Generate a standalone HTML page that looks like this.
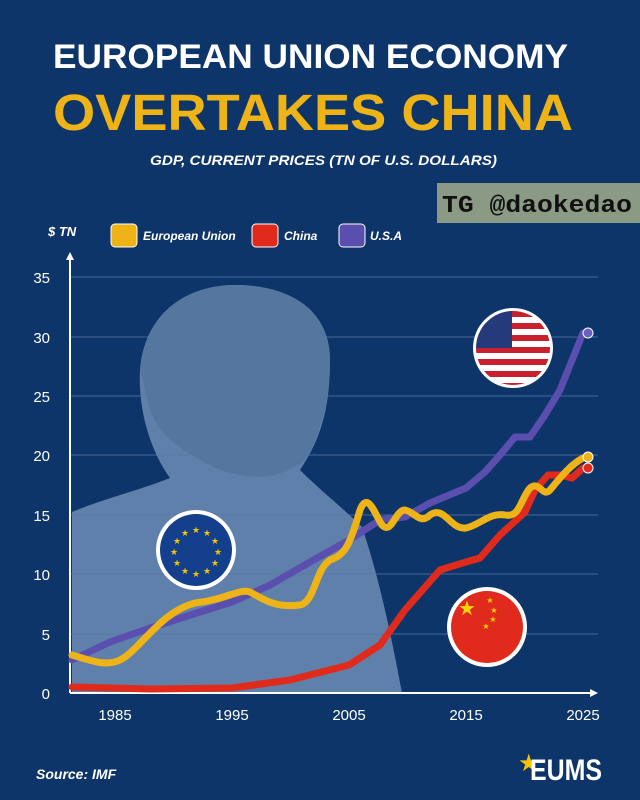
<!DOCTYPE html>
<html><head><meta charset="utf-8"><style>
html,body{margin:0;padding:0;background:#0e3569;}
svg{display:block}
</style></head><body>
<svg width="640" height="800" viewBox="0 0 640 800" xmlns="http://www.w3.org/2000/svg" font-family="Liberation Sans, sans-serif">
<rect width="640" height="800" fill="#0e3569"/>
<text x="53" y="68" fill="#fff" font-size="34" font-weight="bold" textLength="515" lengthAdjust="spacingAndGlyphs">EUROPEAN UNION ECONOMY</text>
<text x="53" y="130" fill="#eeb417" font-size="51" font-weight="bold" textLength="520" lengthAdjust="spacingAndGlyphs">OVERTAKES CHINA</text>
<text x="150" y="165" fill="#fff" font-size="14" font-weight="bold" font-style="italic" textLength="347" lengthAdjust="spacingAndGlyphs">GDP, CURRENT PRICES (TN OF U.S. DOLLARS)</text>
<rect x="437" y="183" width="203" height="40" fill="#8a9a84"/>
<text x="442" y="212" fill="#111" font-size="24" font-weight="bold" font-family="Liberation Mono, monospace" textLength="190" lengthAdjust="spacingAndGlyphs">TG @daokedao</text>
<text x="48" y="236" fill="#fff" font-size="13" font-weight="bold" font-style="italic">$ TN</text>
<rect x="111" y="224" width="26" height="23" rx="4" fill="#eeb417" stroke="#fff" stroke-width="1"/>
<text x="143" y="240" fill="#fff" font-size="12" font-weight="bold" font-style="italic">European Union</text>
<rect x="252" y="224" width="26" height="23" rx="4" fill="#e02b1c" stroke="#fff" stroke-width="1"/>
<text x="284" y="240" fill="#fff" font-size="12" font-weight="bold" font-style="italic">China</text>
<rect x="339" y="224" width="26" height="23" rx="4" fill="#5a4fae" stroke="#fff" stroke-width="1"/>
<text x="370" y="240" fill="#fff" font-size="12" font-weight="bold" font-style="italic">U.S.A</text>
<!-- photo silhouette -->
<path d="M72 512 C100 500 140 490 170 478 C150 450 138 410 140 370 C145 310 190 285 235 285 C290 285 330 310 330 360 C330 410 320 440 300 470 C320 490 345 510 362 527 C380 580 392 640 402 693 L72 693 Z" fill="#5f80aa"/>
<path d="M140 370 C145 310 190 285 235 285 C290 285 330 310 330 360 C330 400 322 430 305 460 C280 480 250 480 220 470 C190 455 160 440 150 410 Z" fill="#55769f"/>
<!-- grid -->
<g stroke="#5a78a6" stroke-width="0.7">
<line x1="70" y1="277" x2="598" y2="277"/><line x1="70" y1="337" x2="598" y2="337"/><line x1="70" y1="396" x2="598" y2="396"/><line x1="70" y1="455" x2="598" y2="455"/><line x1="70" y1="515" x2="598" y2="515"/><line x1="70" y1="574" x2="598" y2="574"/><line x1="70" y1="634" x2="598" y2="634"/>
</g>
<g fill="#fff" font-size="15" text-anchor="end">
<text x="50" y="283">35</text><text x="50" y="343">30</text><text x="50" y="402">25</text><text x="50" y="461">20</text><text x="50" y="521">15</text><text x="50" y="580">10</text><text x="50" y="640">5</text><text x="50" y="699">0</text>
</g>
<g fill="#fff" font-size="15" text-anchor="middle">
<text x="115" y="720">1985</text><text x="232" y="720">1995</text><text x="349" y="720">2005</text><text x="466" y="720">2015</text><text x="583" y="720">2025</text>
</g>
<!-- axes -->
<line x1="70" y1="693" x2="592" y2="693" stroke="#fff" stroke-width="2"/>
<path d="M598 693 L590 689 L590 697 Z" fill="#fff"/>
<line x1="70" y1="693" x2="70" y2="258" stroke="#fff" stroke-width="2"/>
<path d="M70 252 L66 260 L74 260 Z" fill="#fff"/>
<!-- series -->
<path d="M72 660 L110 642 L150 628 L200 612 L232 602 L270 585 L310 562 L349 540 L380 520 L405 517 L430 503 L466 488 L485 472 L500 455 L515 437 L530 437 L545 415 L560 390 L583 333" fill="none" stroke="#5a4fae" stroke-width="7" stroke-linejoin="round" stroke-linecap="round"/>
<path d="M72 687 L150 689 L232 688 L290 680 L349 665 L380 645 L405 610 L440 570 L466 562 L480 558 L500 535 L525 512 L535 490 L548 475 L560 475 L572 478 L583 468" fill="none" stroke="#e02b1c" stroke-width="7" stroke-linejoin="round" stroke-linecap="round"/>
<path d="M72 655 C90 660 105 667 120 660 C140 650 160 612 195 603 C225 600 240 588 250 592 C265 600 275 608 300 605 C315 602 315 570 330 560 C345 555 350 545 360 510 C368 490 375 515 382 525 C392 535 395 510 405 510 C415 512 420 525 430 515 C445 505 450 530 466 528 C480 525 490 512 505 515 C520 518 520 500 530 488 C540 480 542 498 550 490 C560 478 570 465 583 458" fill="none" stroke="#eeb417" stroke-width="7" stroke-linejoin="round" stroke-linecap="round"/>
<circle cx="588" cy="333" r="5" fill="#6a60c0" stroke="#fff" stroke-width="1"/>
<circle cx="588" cy="457" r="5" fill="#eeb417" stroke="#fff" stroke-width="1"/>
<circle cx="588" cy="468" r="5" fill="#e02b1c" stroke="#fff" stroke-width="1"/>
<!-- flags -->
<g>
<clipPath id="us"><circle cx="513" cy="348" r="37"/></clipPath>
<circle cx="513" cy="348" r="40" fill="#fff"/>
<g clip-path="url(#us)">
<rect x="470" y="310" width="90" height="80" fill="#fff"/>
<g fill="#c8202c"><rect x="470" y="311" width="90" height="6"/><rect x="470" y="323" width="90" height="6"/><rect x="470" y="335" width="90" height="6"/><rect x="470" y="347" width="90" height="6"/><rect x="470" y="359" width="90" height="6"/><rect x="470" y="371" width="90" height="6"/><rect x="470" y="383" width="90" height="6"/></g>
<rect x="470" y="310" width="42" height="38" fill="#243a7a"/>
</g>
</g>
<circle cx="196" cy="550" r="40" fill="#fff"/>
<circle cx="196" cy="550" r="36" fill="#143f8c"/>
<g fill="#f4c400" font-size="9" text-anchor="middle">
<text x="196" y="533">★</text><text x="207" y="536">★</text><text x="215" y="544">★</text><text x="218" y="555">★</text><text x="215" y="566">★</text><text x="207" y="574">★</text><text x="196" y="577">★</text><text x="185" y="574">★</text><text x="177" y="566">★</text><text x="174" y="555">★</text><text x="177" y="544">★</text><text x="185" y="536">★</text>
</g>
<circle cx="487" cy="627" r="40" fill="#fff"/>
<circle cx="487" cy="627" r="36" fill="#df2a1c"/>
<g fill="#f6d500" text-anchor="middle"><text x="467" y="615" font-size="20">★</text><text x="490" y="603" font-size="8">★</text><text x="494" y="613" font-size="8">★</text><text x="493" y="622" font-size="8">★</text><text x="486" y="629" font-size="8">★</text></g>
<text x="36" y="779" fill="#fff" font-size="14" font-weight="bold" font-style="italic">Source: IMF</text>
<text x="518" y="771" fill="#f4c400" font-size="24">★</text>
<text x="530" y="780" fill="#fff" font-size="30" font-weight="bold" textLength="72" lengthAdjust="spacingAndGlyphs">EUMS</text>
</svg>
</body></html>
